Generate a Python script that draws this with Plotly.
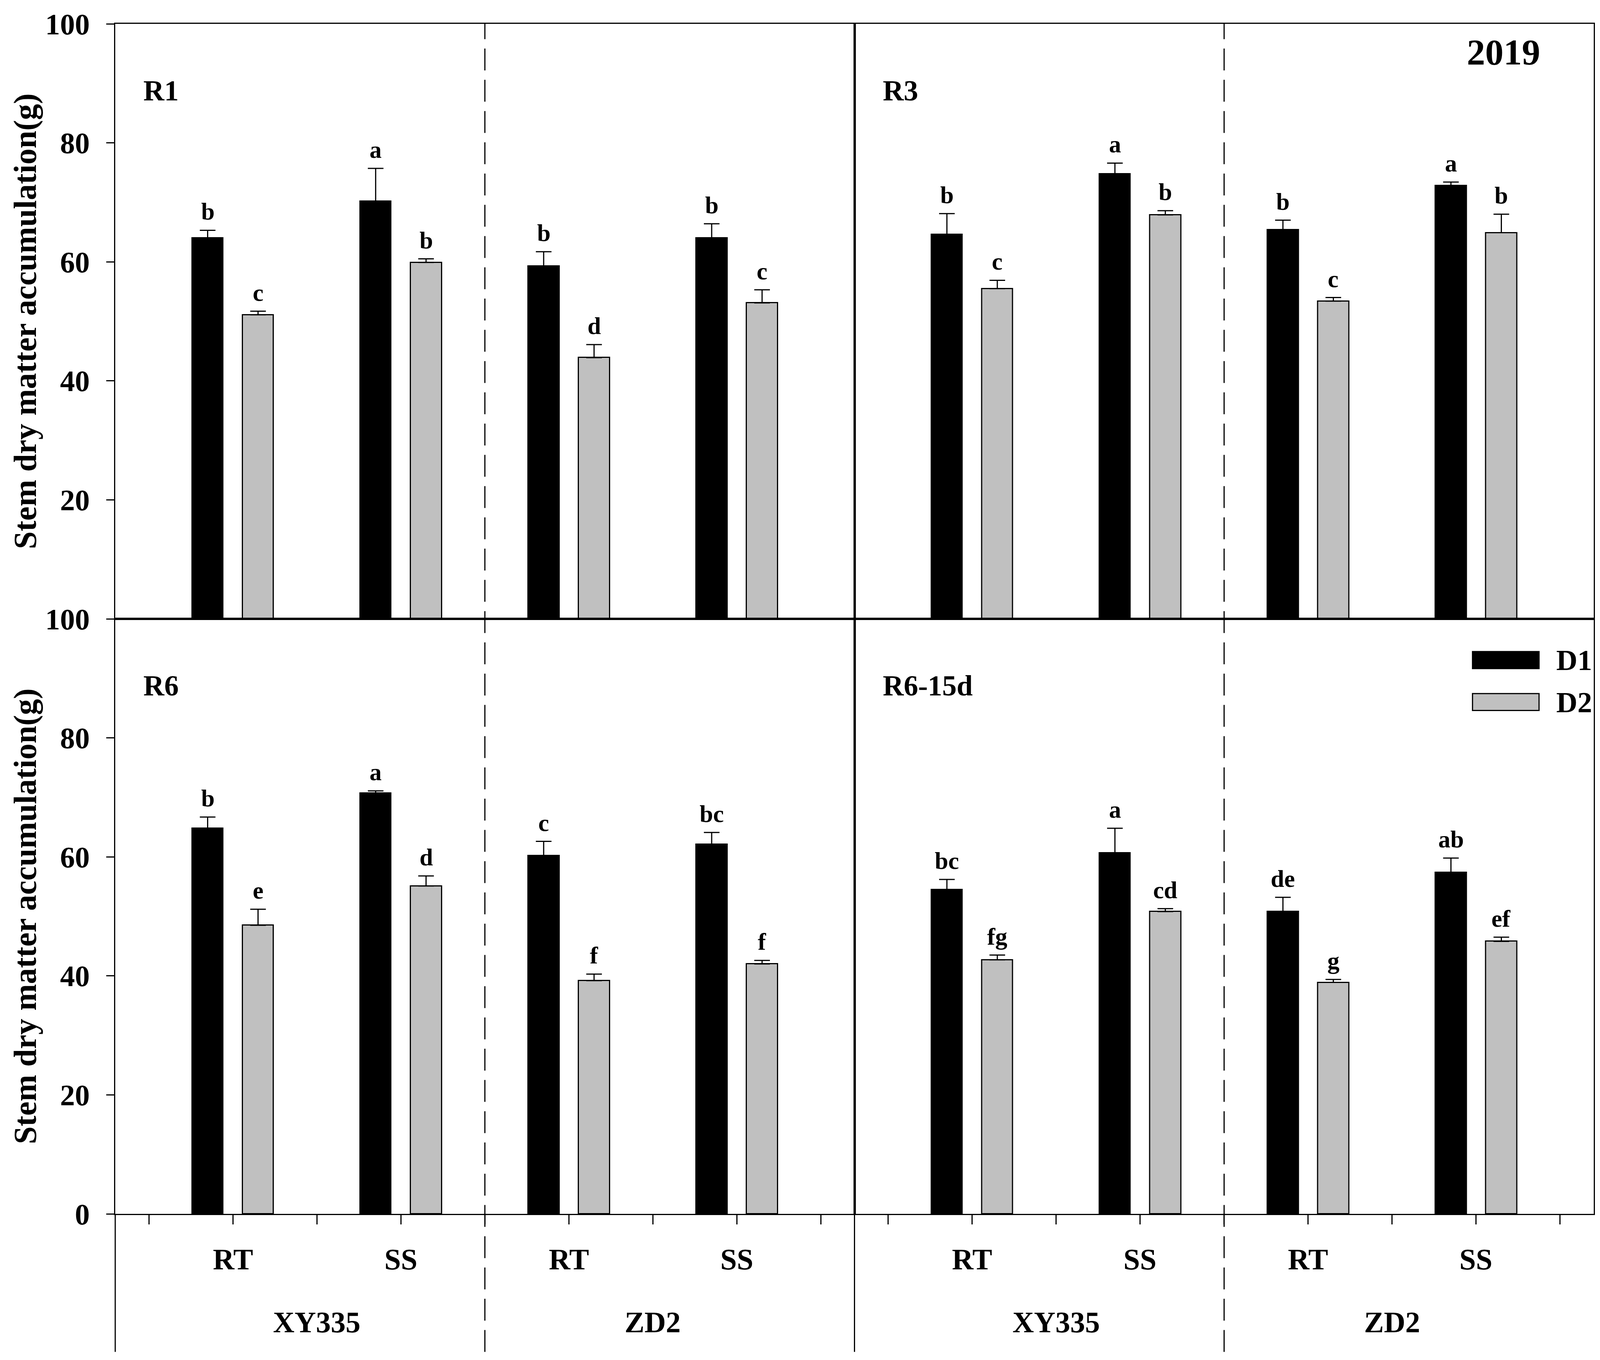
import plotly.graph_objects as go
from plotly.subplots import make_subplots

stages = ['R1', 'R3', 'R6', 'R6-15d']
cultivars = ['XY335', 'ZD2']
tillage = ['RT', 'SS']
series = ['D1', 'D2']

# bar order in every panel: XY335-RT, XY335-SS, ZD2-RT, ZD2-SS
r1_d1 = [64.0, 70.2, 59.3, 64.0]
r1_d1_err = [1.3, 5.5, 2.4, 2.4]
r1_d1_sig = ['b', 'a', 'b', 'b']
r1_d2 = [51.1, 59.9, 43.9, 53.1]
r1_d2_err = [0.6, 0.6, 2.2, 2.2]
r1_d2_sig = ['c', 'b', 'd', 'c']

r3_d1 = [64.6, 74.8, 65.4, 72.8]
r3_d1_err = [3.5, 1.8, 1.6, 0.6]
r3_d1_sig = ['b', 'a', 'b', 'a']
r3_d2 = [55.5, 67.9, 53.4, 64.9]
r3_d2_err = [1.4, 0.7, 0.6, 3.1]
r3_d2_sig = ['c', 'b', 'c', 'b']

r6_d1 = [64.8, 70.7, 60.2, 62.1]
r6_d1_err = [1.9, 0.4, 2.4, 2.0]
r6_d1_sig = ['b', 'a', 'c', 'bc']
r6_d2 = [48.5, 55.1, 39.2, 42.0]
r6_d2_err = [2.7, 1.7, 1.1, 0.6]
r6_d2_sig = ['e', 'd', 'f', 'f']

r615_d1 = [54.5, 60.7, 50.8, 57.4]
r615_d1_err = [1.7, 4.1, 2.4, 2.4]
r615_d1_sig = ['bc', 'a', 'de', 'ab']
r615_d2 = [42.7, 50.8, 38.9, 45.8]
r615_d2_err = [0.8, 0.5, 0.5, 0.7]
r615_d2_sig = ['fg', 'cd', 'g', 'ef']

FONT = 'Liberation Serif'
GRAY = '#c0c0c0'

def bold(size):
    return dict(family=FONT, size=size, color='black', weight='bold')

centers = [2 * (i + 1) for i in range(len(cultivars) * len(tillage))]
shift = 0.3
bar_w = 0.37

fig = make_subplots(rows=2, cols=2, horizontal_spacing=0, vertical_spacing=0)

panels = [
    (1, 1, r1_d1, r1_d1_err, r1_d1_sig, r1_d2, r1_d2_err, r1_d2_sig),
    (1, 2, r3_d1, r3_d1_err, r3_d1_sig, r3_d2, r3_d2_err, r3_d2_sig),
    (2, 1, r6_d1, r6_d1_err, r6_d1_sig, r6_d2, r6_d2_err, r6_d2_sig),
    (2, 2, r615_d1, r615_d1_err, r615_d1_sig, r615_d2, r615_d2_err, r615_d2_sig),
]

for name, (row, col, d1, e1, s1, d2, e2, s2) in zip(stages, panels):
    for vals, errs, sigs, color, off, label in [
        (d1, e1, s1, 'black', -shift, series[0]),
        (d2, e2, s2, GRAY, shift, series[1]),
    ]:
        xs = [c + off for c in centers]
        fig.add_trace(go.Bar(
            x=xs, y=vals, width=bar_w, name=label, showlegend=False,
            marker=dict(color=color, line=dict(color='black', width=3)),
            error_y=dict(type='data', array=errs, arrayminus=[0] * len(errs),
                         symmetric=False, color='black', thickness=3, width=20),
        ), row=row, col=col)
        for x, v, e, s in zip(xs, vals, errs, sigs):
            fig.add_annotation(x=x, y=v + e, text=s, showarrow=False,
                               yanchor='bottom', yshift=12, font=bold(62),
                               row=row, col=col)
    fig.add_annotation(text=name, x=0.037, y=0.888, xref='x domain', yref='y domain',
                       xanchor='left', yanchor='middle', showarrow=False,
                       font=bold(74), row=row, col=col)

fig.add_annotation(text='2019', x=0.878, y=0.953, xref='x2 domain', yref='y2 domain',
                   xanchor='center', yanchor='middle', showarrow=False, font=bold(94))

# legend drawn as boxes in the bottom-right panel
for i, (name, color) in enumerate(zip(series, ['black', GRAY])):
    y0 = 0.9165 - i * 0.0705
    fig.add_shape(type='rect', xref='x4 domain', yref='y4 domain',
                  x0=0.836, x1=0.926, y0=y0, y1=y0 + 0.0285,
                  fillcolor=color, line=dict(color='black', width=3))
    fig.add_annotation(text=name, x=0.948, y=y0 + 0.014, xref='x4 domain',
                       yref='y4 domain', xanchor='left', yanchor='middle',
                       showarrow=False, font=bold(75))

# category labels under the bottom axes
sep = (centers[1] + centers[2]) / 2
for xref in ['x3', 'x4']:
    for i, c in enumerate(centers):
        fig.add_annotation(text=tillage[i % 2], x=c, y=-0.038, xref=xref, yref='paper',
                           xanchor='center', yanchor='middle', showarrow=False,
                           font=bold(76))
    for j, cv in enumerate(cultivars):
        fig.add_annotation(text=cv, x=(centers[2 * j] + centers[2 * j + 1]) / 2, y=-0.091,
                           xref=xref, yref='paper', xanchor='center', yanchor='middle',
                           showarrow=False, font=bold(76))

y_bottom = -0.116
for xref in ['x', 'x2']:
    fig.add_shape(type='line', xref=xref, yref='paper', x0=sep, x1=sep, y0=y_bottom, y1=1,
                  line=dict(color='black', width=3, dash='56px,24px'))
for xp in [0, 0.5]:
    fig.add_shape(type='line', xref='paper', yref='paper', x0=xp, x1=xp, y0=y_bottom, y1=0,
                  line=dict(color='black', width=3))

# y axis titles
for yp in [0.75, 0.25]:
    fig.add_annotation(text='Stem dry matter accumulation(g)', textangle=-90,
                       x=-0.061, y=yp, xref='paper', yref='paper',
                       xanchor='center', yanchor='middle', showarrow=False, font=bold(82))

fig.update_xaxes(range=[0.6, 9.4], showline=True, mirror=True, linecolor='black',
                 linewidth=3, showgrid=False, zeroline=False, ticks='',
                 showticklabels=False)
fig.update_xaxes(row=2, ticks='outside', tickvals=list(range(1, 10)), ticklen=24,
                 tickwidth=3, tickcolor='black')
fig.update_yaxes(range=[0, 100], showline=True, mirror=True, linecolor='black',
                 linewidth=3, showgrid=False, zeroline=False, ticks='',
                 showticklabels=False)
fig.update_yaxes(col=1, ticks='outside', ticklen=20, tickwidth=3, tickcolor='black',
                 showticklabels=True, tickfont=bold(76), ticklabelstandoff=27)
fig.update_yaxes(row=1, col=1, tickvals=[20, 40, 60, 80, 100])
fig.update_yaxes(row=2, col=1, tickvals=[0, 20, 40, 60, 80, 100])

# the page is shown in a 4096 px wide window with an 8 px body margin
fig.update_layout(
    width=4088, height=3473, autosize=False,
    margin=dict(l=287, r=16, t=36, b=374),
    barmode='overlay', bargap=0,
    plot_bgcolor='white', paper_bgcolor='white',
    showlegend=False,
)

fig.write_html('out.html')
